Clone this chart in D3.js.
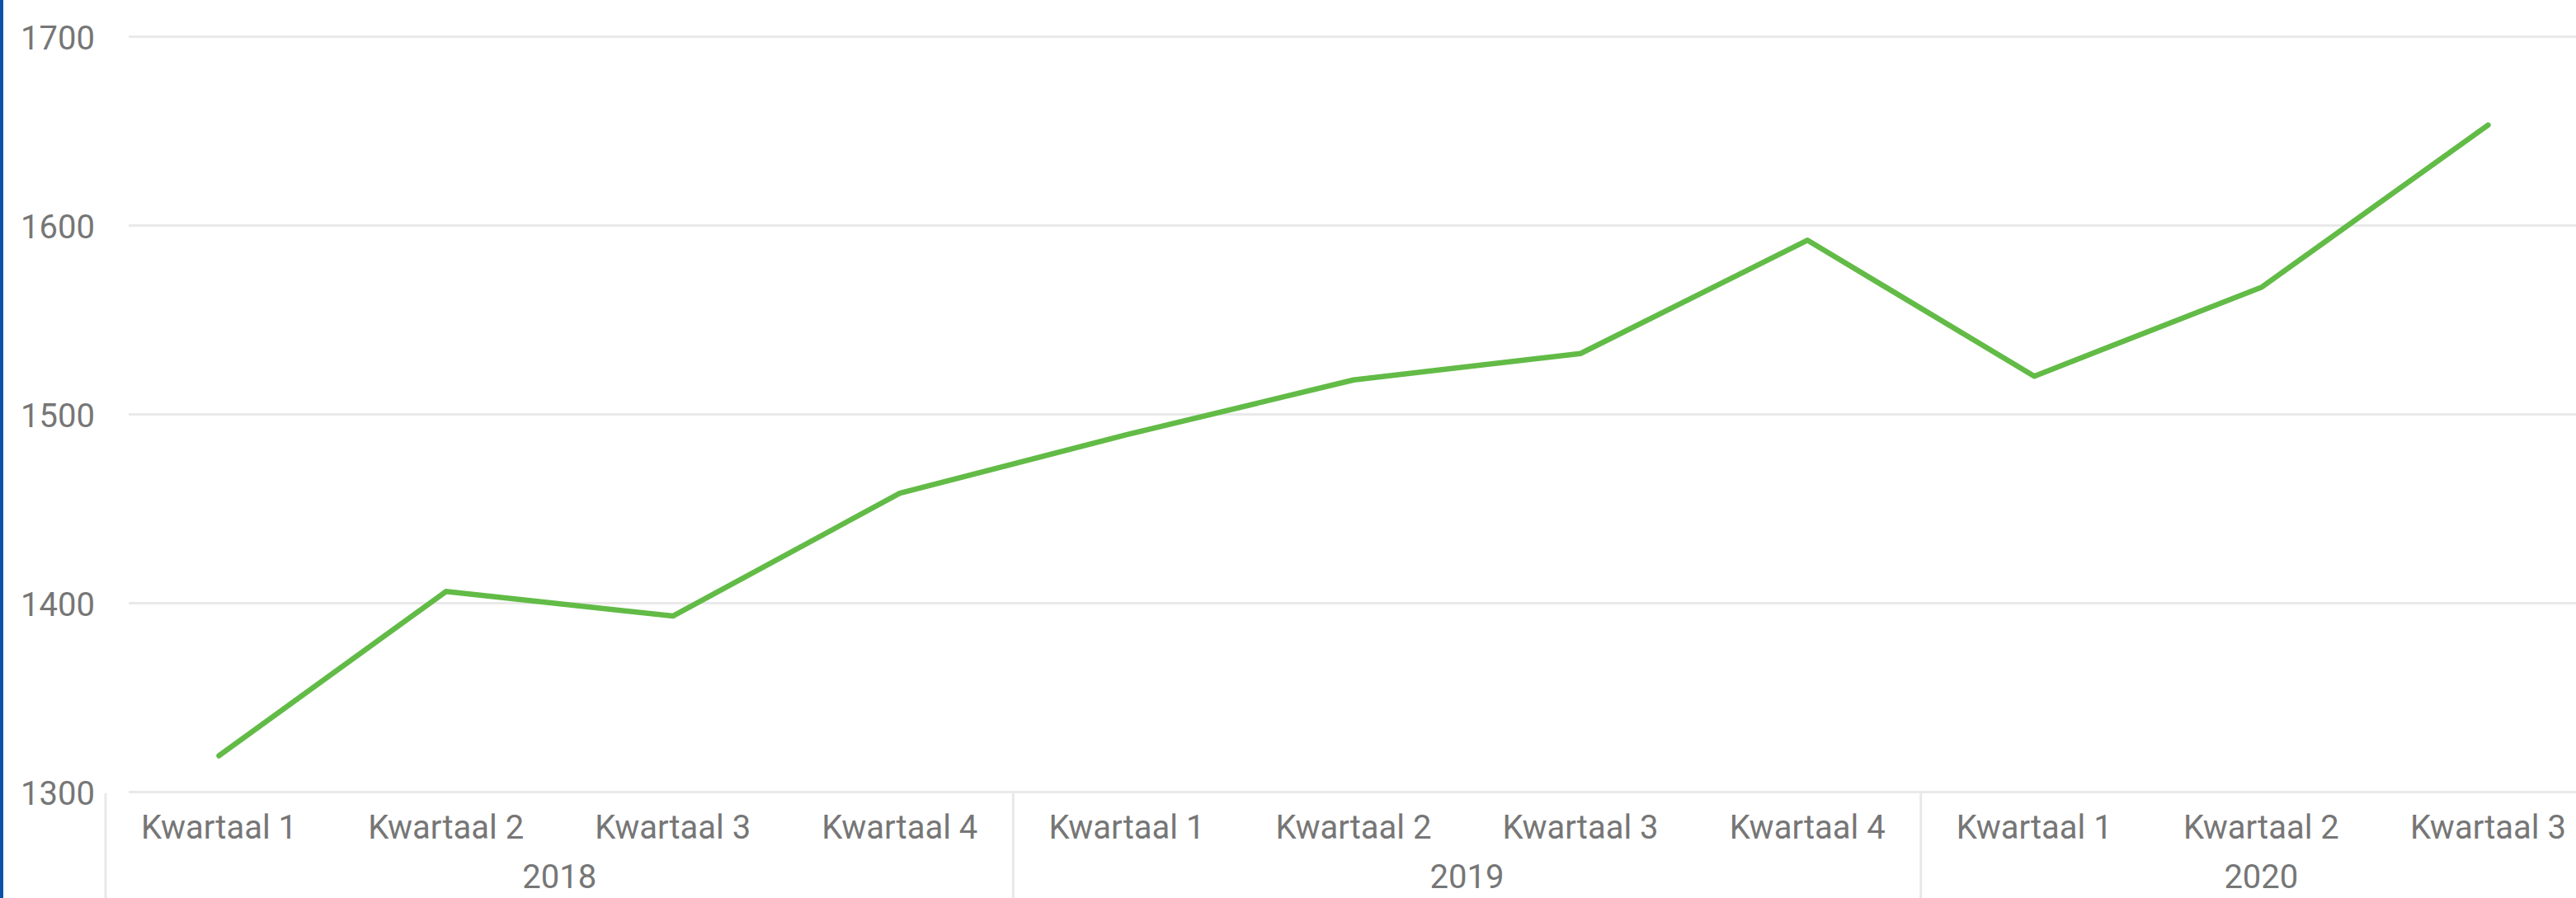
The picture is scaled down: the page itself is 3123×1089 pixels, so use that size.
<!DOCTYPE html>
<html>
<head>
<meta charset="utf-8">
<script src="https://cdn.jsdelivr.net/npm/d3@7"></script>
<style>
  html, body { margin: 0; padding: 0; background: #fff; overflow: hidden; }
  #chart { width: 3123px; height: 1089px; position: relative; }
  text { font-family: Roboto, "Noto Sans", sans-serif; fill: #767676; }
</style>
</head>
<body>
<div id="chart"></div>
<script>
let quarters = ['Kwartaal 1', 'Kwartaal 2', 'Kwartaal 3', 'Kwartaal 4',
                'Kwartaal 1', 'Kwartaal 2', 'Kwartaal 3', 'Kwartaal 4',
                'Kwartaal 1', 'Kwartaal 2', 'Kwartaal 3'];
let years = ['2018', '2018', '2018', '2018',
             '2019', '2019', '2019', '2019',
             '2020', '2020', '2020'];
let values = [1319, 1406, 1393, 1458, 1489, 1518, 1532, 1592, 1520, 1567, 1653];
let yTicks = [1300, 1400, 1500, 1600, 1700];

let width = 3123;
let height = 1089;
let idx = quarters.map((v, i) => i);

let svg = d3.select('#chart').append('svg')
            .attr('width', width)
            .attr('height', height);

// blue bar on the left edge
svg.append('rect')
   .attr('x', 0).attr('y', 0)
   .attr('width', 4).attr('height', height)
   .style('fill', '#0b52a6');

let xScale = d3.scaleBand()
               .domain(idx)
               .range([128, 3154]);
let yScale = d3.scaleLinear()
               .domain([1300, 1700])
               .range([960, 44]);

// y axis with gridlines
let yAxis = svg.append('g')
               .attr('class', 'yaxis')
               .attr('transform', 'translate(156, 0)')
               .call(d3.axisRight(yScale).tickValues(yTicks).tickSize(width).tickFormat(d3.format('d')));
yAxis.select('.domain').remove();
yAxis.selectAll('line')
     .style('stroke', '#e9e9e9')
     .style('stroke-width', 3);
yAxis.selectAll('text')
     .attr('x', -41)
     .attr('dy', 15)
     .style('text-anchor', 'end')
     .style('font-size', '40px')
     .style('fill', '#767676');

// x axis: quarter labels
let xAxis = svg.append('g')
               .attr('class', 'xaxis')
               .attr('transform', 'translate(0, 960)')
               .call(d3.axisBottom(xScale).tickSize(0).tickFormat(i => quarters[i]));
xAxis.select('.domain').remove();
xAxis.selectAll('text')
     .attr('y', 57)
     .attr('dy', 0)
     .style('font-size', '40px')
     .style('fill', '#767676');

// year groups
let yearNames = Array.from(new Set(years));
let groups = yearNames.map(yr => {
  let members = idx.filter(i => years[i] === yr);
  return { year: yr, first: members[0], last: members[members.length - 1] };
});

svg.selectAll('.yearsep')
   .data(groups)
   .enter()
   .append('line')
   .attr('class', 'yearsep')
   .attr('x1', g => xScale(g.first))
   .attr('x2', g => xScale(g.first))
   .attr('y1', 962)
   .attr('y2', height)
   .style('stroke', '#e8e8e8')
   .style('stroke-width', 3);

svg.selectAll('.yearlabel')
   .data(groups)
   .enter()
   .append('text')
   .attr('class', 'yearlabel')
   .attr('x', g => (xScale(g.first) + xScale(g.last) + xScale.bandwidth()) / 2)
   .attr('y', 1077)
   .style('text-anchor', 'middle')
   .style('font-size', '40px')
   .text(g => g.year);

// the line
let line = d3.line()
             .x(i => xScale(i) + xScale.bandwidth() / 2)
             .y(i => yScale(values[i]));

svg.append('path')
   .datum(idx)
   .attr('d', line)
   .style('fill', 'none')
   .style('stroke', '#62bb46')
   .style('stroke-width', 6.5)
   .style('stroke-linecap', 'round')
   .style('stroke-linejoin', 'round');
</script>
</body>
</html>
